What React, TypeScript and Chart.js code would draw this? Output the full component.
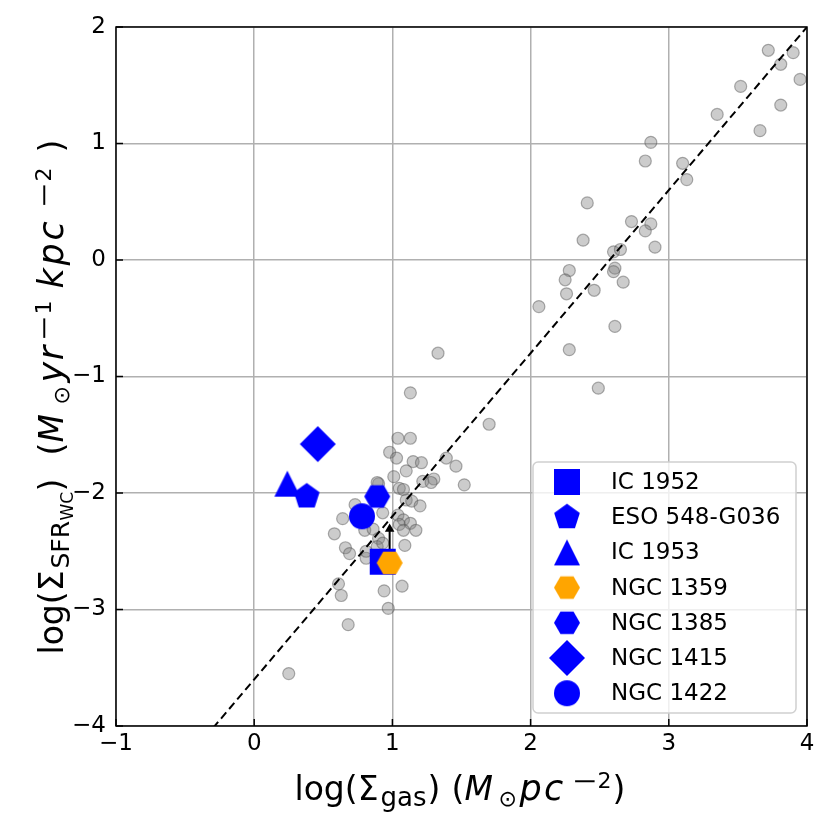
import React, { useEffect, useRef } from 'react';
import { Chart, registerables } from 'chart.js';

Chart.register(...registerables);

// ---------------- data ----------------
const GAS_LOG = [
  3.72, 3.90, 3.81, 3.95, 3.52, 3.81, 3.35, 3.66, 2.87, 2.83,
  3.10, 3.13, 2.41, 2.73, 2.87, 2.83, 2.38, 2.90, 2.60, 2.65,
  2.61, 2.60, 2.28, 2.25, 2.67, 2.46, 2.26, 2.06, 2.61, 2.28,
  2.49, 1.33, 1.13, 1.70, 1.04, 1.13, 0.98, 1.03, 1.15, 1.21,
  1.39, 1.46, 1.10, 1.01, 0.90, 1.22, 1.30, 1.28, 1.52, 1.05,
  1.08, 1.10, 1.14, 1.20, 0.73, 0.93, 0.64, 1.04, 1.08, 1.05,
  1.13, 1.08, 1.17, 0.80, 0.86, 0.58, 0.90, 1.09, 0.66, 0.69,
  0.81, 0.81, 0.89, 0.61, 0.63, 0.94, 1.07, 0.97, 0.68, 0.25,
  0.93, 0.89,
];
const SFR_LOG = [
  1.80, 1.78, 1.68, 1.55, 1.49, 1.33, 1.25, 1.11, 1.01, 0.85,
  0.83, 0.69, 0.49, 0.33, 0.31, 0.25, 0.17, 0.11, 0.07, 0.09,
  -0.07, -0.10, -0.09, -0.17, -0.19, -0.26, -0.29, -0.40, -0.57, -0.77,
  -1.10, -0.80, -1.14, -1.41, -1.53, -1.53, -1.65, -1.70, -1.73, -1.74,
  -1.70, -1.77, -1.81, -1.86, -1.92, -1.90, -1.88, -1.91, -1.93, -1.96,
  -1.97, -2.06, -2.07, -2.11, -2.10, -2.17, -2.22, -2.19, -2.23, -2.27,
  -2.26, -2.32, -2.32, -2.32, -2.31, -2.35, -2.39, -2.45, -2.47, -2.52,
  -2.56, -2.50, -2.46, -2.78, -2.88, -2.84, -2.80, -2.99, -3.13, -3.55,
  -2.43, -1.91,
];

const GALAXIES = ['IC 1952', 'ESO 548-G036', 'IC 1953', 'NGC 1359', 'NGC 1385', 'NGC 1415', 'NGC 1422'];
const GAL_GAS = [0.93, 0.38, 0.24, 0.98, 0.89, 0.46, 0.78];
const GAL_SFR = [-2.59, -2.03, -1.92, -2.60, -2.03, -1.58, -2.20];
const GAL_SHAPES = ['square', 'pentagon', 'triangle', 'hexagon', 'hexagon', 'diamond', 'circle'];
const GAL_COLORS = ['#0000ff', '#0000ff', '#0000ff', '#ffa500', '#0000ff', '#0000ff', '#0000ff'];

// lower limit arrow for NGC 1359
const LIMIT_GAS = 0.98;
const LIMIT_SFR = [-2.60, -2.31];

// Kennicutt-Schmidt relation
const KS_SLOPE = 1.4;
const KS_INTERCEPT = -3.6;
const KS_GAS = [-1, 4.2];

const X_TICKS = [-1, 0, 1, 2, 3, 4];
const Y_TICKS = [-4, -3, -2, -1, 0, 1, 2];

const FONT = '"DejaVu Sans", sans-serif';

type Seg = { t: string; size: number; at: number; italic?: boolean; dy?: number; w?: number; sx?: number };

const X_TITLE: Seg[] = [
  { t: 'log(Σ', size: 33, at: 0 },
  { t: 'gas', size: 26, at: 86, dy: 6 },
  { t: ')', size: 33, at: 133 },
  { t: '(', size: 33, at: 157 },
  { t: 'M', size: 33, at: 170, italic: true },
  { t: '⊙', size: 22, at: 204, dy: 6 },
  { t: 'pc', size: 35, at: 225, italic: true, w: 46 },
  { t: '−', size: 24, at: 277, dy: -11, sx: 1.3 },
  { t: '2', size: 22, at: 303, dy: -12 },
  { t: ')', size: 33, at: 318 },
];

const Y_TITLE: Seg[] = [
  { t: 'log(Σ', size: 33, at: 0 },
  { t: 'SFR', size: 25, at: 86, dy: 6 },
  { t: 'WC', size: 17, at: 134, dy: 10 },
  { t: ')', size: 33, at: 163 },
  { t: '(', size: 33, at: 199 },
  { t: 'M', size: 33, at: 212, italic: true },
  { t: '⊙', size: 22, at: 250, dy: 6 },
  { t: 'yr', size: 35, at: 272, italic: true, w: 38 },
  { t: '−', size: 24, at: 313, dy: -11, sx: 1.3 },
  { t: '1', size: 22, at: 340, dy: -12 },
  { t: 'kpc', size: 35, at: 366, italic: true, w: 70 },
  { t: '−', size: 24, at: 446, dy: -11, sx: 1.3 },
  { t: '2', size: 22, at: 473, dy: -12 },
  { t: ')', size: 33, at: 502 },
];

// ---------------- helpers ----------------
function makeMarker(shape: string, color: string): HTMLCanvasElement {
  const S = 40;
  const c = document.createElement('canvas');
  c.width = S;
  c.height = S;
  const ctx = c.getContext('2d')!;
  const cx = S / 2;
  const cy = S / 2;
  ctx.fillStyle = color;
  ctx.beginPath();
  const poly = (n: number, r: number, rot: number) => {
    for (let i = 0; i < n; i++) {
      const a = rot + (i * 2 * Math.PI) / n;
      const px = cx + r * Math.cos(a);
      const py = cy + r * Math.sin(a);
      if (i === 0) ctx.moveTo(px, py);
      else ctx.lineTo(px, py);
    }
  };
  switch (shape) {
    case 'square':
      ctx.rect(cx - 13, cy - 13, 26, 26);
      break;
    case 'circle':
      ctx.arc(cx, cy, 13, 0, Math.PI * 2);
      break;
    case 'diamond':
      ctx.moveTo(cx, cy - 18);
      ctx.lineTo(cx + 18, cy);
      ctx.lineTo(cx, cy + 18);
      ctx.lineTo(cx - 18, cy);
      break;
    case 'triangle':
      ctx.moveTo(cx, cy - 13);
      ctx.lineTo(cx + 13, cy + 13);
      ctx.lineTo(cx - 13, cy + 13);
      break;
    case 'pentagon':
      poly(5, 13.5, -Math.PI / 2);
      break;
    case 'hexagon':
      poly(6, 13, 0);
      break;
  }
  ctx.closePath();
  ctx.fill();
  return c;
}

function drawRich(ctx: CanvasRenderingContext2D, segs: Seg[], x0: number, y0: number, vertical: boolean) {
  ctx.save();
  ctx.translate(x0, y0);
  if (vertical) ctx.rotate(-Math.PI / 2);
  ctx.fillStyle = '#000';
  ctx.textBaseline = 'alphabetic';
  ctx.textAlign = 'left';
  for (const s of segs) {
    ctx.font = `${s.italic ? 'italic ' : ''}${s.size}px ${FONT}`;
    (ctx as any).letterSpacing = '0px';
    if (s.w) {
      const m = ctx.measureText(s.t).width;
      const ls = Math.max(0, (s.w - m) / s.t.length);
      (ctx as any).letterSpacing = ls.toFixed(2) + 'px';
    }
    ctx.save();
    ctx.translate(s.at, s.dy || 0);
    if (s.sx) ctx.scale(s.sx, 1);
    ctx.fillText(s.t, 0, 0);
    ctx.restore();
  }
  (ctx as any).letterSpacing = '0px';
  ctx.restore();
}

export default function App() {
  const ref = useRef<HTMLCanvasElement>(null);

  useEffect(() => {
    if (!ref.current) return;
    const markers = GAL_SHAPES.map((s, i) => makeMarker(s, GAL_COLORS[i]));

    const decor = {
      id: 'decor',
      afterDraw(chart: any) {
        const { ctx, chartArea: a, scales } = chart;
        ctx.save();
        // inward ticks
        ctx.strokeStyle = '#000';
        ctx.lineWidth = 1.5;
        X_TICKS.forEach((v) => {
          const x = scales.x.getPixelForValue(v);
          ctx.beginPath();
          ctx.moveTo(x, a.bottom);
          ctx.lineTo(x, a.bottom - 7);
          ctx.stroke();
        });
        Y_TICKS.forEach((v) => {
          const y = scales.y.getPixelForValue(v);
          ctx.beginPath();
          ctx.moveTo(a.left, y);
          ctx.lineTo(a.left + 7, y);
          ctx.stroke();
        });
        // frame
        ctx.strokeRect(a.left, a.top, a.right - a.left, a.bottom - a.top);

        // legend
        const lw = 263;
        const lh = 251;
        const lx = a.right - 274;
        const ly = a.bottom - 264;
        ctx.beginPath();
        (ctx as any).roundRect(lx, ly, lw, lh, 5);
        ctx.fillStyle = 'rgba(255,255,255,0.8)';
        ctx.fill();
        ctx.strokeStyle = '#d0d0d0';
        ctx.lineWidth = 1.5;
        ctx.stroke();
        ctx.font = `23px ${FONT}`;
        ctx.fillStyle = '#000';
        ctx.textBaseline = 'middle';
        ctx.textAlign = 'left';
        GALAXIES.forEach((name, i) => {
          const cy = ly + 20 + i * 35.2;
          const m = markers[i];
          ctx.drawImage(m, lx + 34 - m.width / 2, cy - m.height / 2);
          ctx.fillText(name, lx + 78, cy + 1);
        });

        // axis titles
        const cxMid = (a.left + a.right) / 2;
        const cyMid = (a.top + a.bottom) / 2;
        drawRich(ctx, X_TITLE, cxMid - 167, a.bottom + 74, false);
        drawRich(ctx, Y_TITLE, a.left - 53, cyMid + 278, true);
        ctx.restore();
      },
    };

    const gray = GAS_LOG.map((x, i) => ({ x, y: SFR_LOG[i] }));
    const ks = KS_GAS.map((x) => ({ x, y: KS_SLOPE * x + KS_INTERCEPT }));

    const galaxySets = GALAXIES.map((name, i) => ({
      type: 'scatter' as const,
      label: name,
      data: [{ x: GAL_GAS[i], y: GAL_SFR[i] }],
      pointStyle: markers[i],
      pointRadius: 13,
      backgroundColor: GAL_COLORS[i],
      borderColor: GAL_COLORS[i],
      order: 70 - i,
    }));

    const tickFont = { family: FONT, size: 23 };
    const fmt = (v: number) => (v < 0 ? '−' + Math.abs(v) : String(v));

    const chart = new Chart(ref.current, {
      type: 'scatter',
      data: {
        datasets: [
          {
            label: 'sample',
            data: gray,
            pointRadius: 6,
            borderWidth: 1.2,
            backgroundColor: 'rgba(128,128,128,0.4)',
            borderColor: 'rgba(80,80,80,0.45)',
            order: 100,
          },
          {
            type: 'line',
            label: 'KS',
            data: ks,
            borderColor: '#000',
            borderWidth: 2,
            borderDash: [8, 4.5],
            pointRadius: 0,
            fill: false,
            order: 90,
          },
          {
            type: 'line',
            label: 'limit',
            data: LIMIT_SFR.map((y) => ({ x: LIMIT_GAS, y })),
            borderColor: '#000',
            backgroundColor: '#000',
            borderWidth: 2,
            pointRadius: [0, 3.5],
            pointStyle: 'triangle',
            fill: false,
            order: 80,
          },
          ...galaxySets,
        ] as any,
      },
      options: {
        responsive: false,
        animation: false,
        events: [],
        layout: { padding: { top: 27, right: 25, left: 0, bottom: 0 } },
        plugins: { legend: { display: false }, tooltip: { enabled: false } },
        scales: {
          x: {
            type: 'linear',
            min: -1,
            max: 4,
            afterBuildTicks: (s: any) => {
              s.ticks = X_TICKS.map((v) => ({ value: v }));
            },
            ticks: { font: tickFont, color: '#000', padding: 4, autoSkip: false, maxRotation: 0, callback: (v: any) => fmt(Number(v)) },
            grid: { color: '#b0b0b0', lineWidth: 1.5, drawTicks: false },
            border: { display: false },
            afterFit: (s: any) => {
              s.height = 104;
            },
          },
          y: {
            type: 'linear',
            min: -4,
            max: 2,
            afterBuildTicks: (s: any) => {
              s.ticks = Y_TICKS.map((v) => ({ value: v }));
            },
            ticks: { font: tickFont, color: '#000', padding: 10, autoSkip: false, callback: (v: any) => fmt(Number(v)) },
            grid: { color: '#b0b0b0', lineWidth: 1.5, drawTicks: false },
            border: { display: false },
            afterFit: (s: any) => {
              s.width = 116;
            },
          },
        },
      } as any,
      plugins: [decor],
    });
    return () => chart.destroy();
  }, []);

  return (
    <div style={{ position: 'absolute', left: 0, top: 0, width: 832, height: 830, background: '#fff' }}>
      <canvas ref={ref} width={832} height={830} style={{ width: 832, height: 830, display: 'block' }} />
    </div>
  );
}
